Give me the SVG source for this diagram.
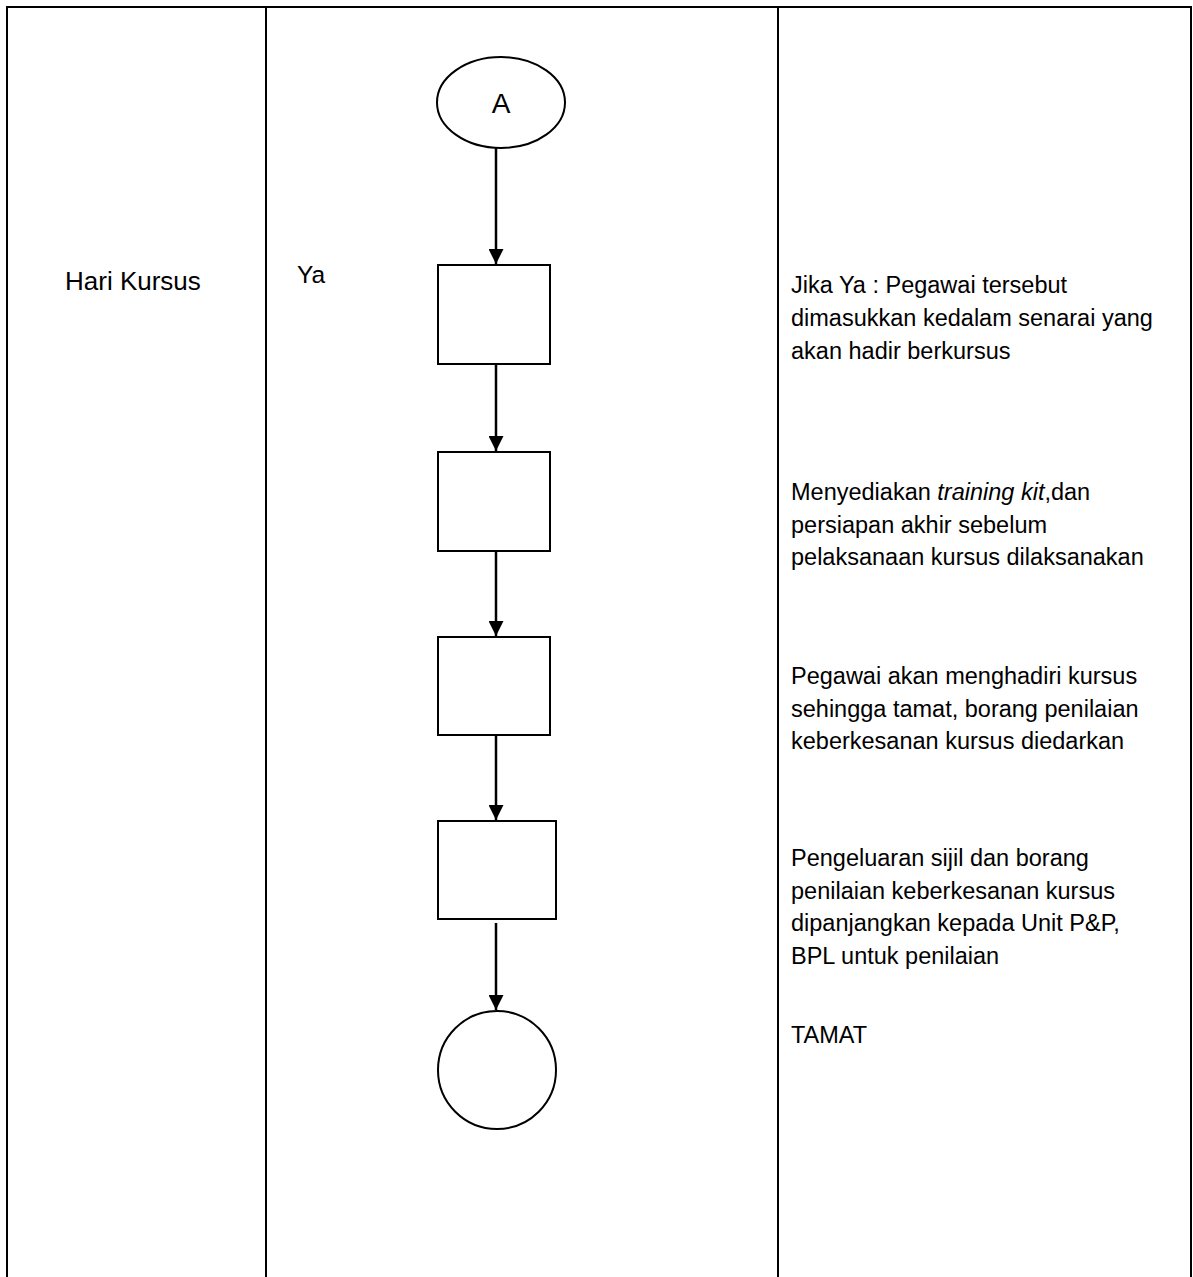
<svg xmlns="http://www.w3.org/2000/svg" width="1193" height="1277" viewBox="0 0 1193 1277">
<defs>
<style>
.grid{stroke:#000;stroke-width:2;fill:none}
.shape{fill:#fff;stroke:#000;stroke-width:2}
.conn{stroke:#000;stroke-width:2.5;fill:none}
text{font-family:"Liberation Sans",Arial,sans-serif;font-size:23.5px;fill:#000}
</style>
<marker id="arr" viewBox="0 0 10 10" refX="10" refY="5" markerWidth="6" markerHeight="6" markerUnits="strokeWidth" orient="auto">
<path d="M0,0 L10,5 L0,10 z" fill="#000"/>
</marker>
</defs>
<rect width="1193" height="1277" fill="#fff"/>
<g id="table">
<line class="grid" x1="6" y1="7" x2="1192" y2="7"/>
<line class="grid" x1="7" y1="6" x2="7" y2="1277"/>
<line class="grid" x1="266" y1="7" x2="266" y2="1277"/>
<line class="grid" x1="778" y1="7" x2="778" y2="1277"/>
<line class="grid" x1="1191" y1="6" x2="1191" y2="1277"/>
</g>
<g id="labels">
<text x="65" y="290" style="font-size:26px">Hari Kursus</text>
<text x="297" y="283" style="font-size:24.5px">Ya</text>
<text x="791" y="293">Jika Ya : Pegawai tersebut</text>
<text x="791" y="326">dimasukkan kedalam senarai yang</text>
<text x="791" y="358.5">akan hadir berkursus</text>
<text x="791" y="500">Menyediakan <tspan font-style="italic">training kit</tspan>,dan</text>
<text x="791" y="532.5">persiapan akhir sebelum</text>
<text x="791" y="565">pelaksanaan kursus dilaksanakan</text>
<text x="791" y="684">Pegawai akan menghadiri kursus</text>
<text x="791" y="716.5">sehingga tamat, borang penilaian</text>
<text x="791" y="749">keberkesanan kursus diedarkan</text>
<text x="791" y="866">Pengeluaran sijil dan borang</text>
<text x="791" y="898.5">penilaian keberkesanan kursus</text>
<text x="791" y="931">dipanjangkan kepada Unit P&amp;P,</text>
<text x="791" y="963.5">BPL untuk penilaian</text>
<text x="791" y="1043">TAMAT</text>
</g>
<g id="node-A">
<ellipse class="shape" cx="501" cy="102.5" rx="64" ry="45.5"/>
<text x="501" y="113" text-anchor="middle" style="font-size:28px">A</text>
</g>
<g id="node-1"><rect class="shape" x="438" y="265" width="112" height="99"/></g>
<g id="node-2"><rect class="shape" x="438" y="452" width="112" height="99"/></g>
<g id="node-3"><rect class="shape" x="438" y="637" width="112" height="98"/></g>
<g id="node-4"><rect class="shape" x="438" y="821" width="118" height="98"/></g>
<g id="node-end"><circle class="shape" cx="497" cy="1070" r="59"/></g>
<g id="connectors">
<line class="conn" x1="496" y1="148" x2="496" y2="264" marker-end="url(#arr)"/>
<line class="conn" x1="496" y1="364" x2="496" y2="451" marker-end="url(#arr)"/>
<line class="conn" x1="496" y1="551" x2="496" y2="636" marker-end="url(#arr)"/>
<line class="conn" x1="496" y1="735" x2="496" y2="820" marker-end="url(#arr)"/>
<line class="conn" x1="496" y1="923" x2="496" y2="1010" marker-end="url(#arr)"/>
</g>
</svg>
